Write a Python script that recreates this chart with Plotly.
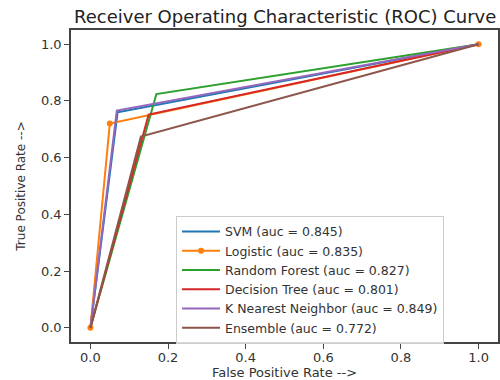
import plotly.graph_objects as go

# ROC operating points (FPR, TPR) for each classifier
models = ["SVM", "Logistic", "Random Forest", "Decision Tree", "K Nearest Neighbor", "Ensemble"]
auc_scores = [0.845, 0.835, 0.827, 0.801, 0.849, 0.772]
fpr_values = [
    [0.0, 0.07, 1.0],
    [0.0, 0.05, 1.0],
    [0.0, 0.17, 1.0],
    [0.0, 0.15, 1.0],
    [0.0, 0.068, 1.0],
    [0.0, 0.13, 1.0],
]
tpr_values = [
    [0.0, 0.76, 1.0],
    [0.0, 0.72, 1.0],
    [0.0, 0.824, 1.0],
    [0.0, 0.752, 1.0],
    [0.0, 0.766, 1.0],
    [0.0, 0.674, 1.0],
]
colors = ["#1f77b4", "#ff7f0e", "#2ca02c", "#d62728", "#9467bd", "#8c564b"]
tick_vals = [0.0, 0.2, 0.4, 0.6, 0.8, 1.0]
tick_text = ["0.0", "0.2", "0.4", "0.6", "0.8", "1.0"]

FONT = "DejaVu Sans"

fig = go.Figure()
for name, auc, fpr, tpr, col in zip(models, auc_scores, fpr_values, tpr_values, colors):
    with_markers = name == "Logistic"
    fig.add_trace(go.Scatter(
        x=fpr, y=tpr,
        mode="lines+markers" if with_markers else "lines",
        name=f"{name} (auc = {auc:.3f})",
        line=dict(color=col, width=2),
        marker=dict(color=col, size=6) if with_markers else None,
    ))

axis_common = dict(
    range=[-0.05, 1.05],
    tickvals=tick_vals,
    ticktext=tick_text,
    showgrid=False,
    zeroline=False,
    showline=True,
    mirror=True,
    linecolor="#444",
    linewidth=1.5,
    ticks="outside",
    ticklen=5,
    tickwidth=1.2,
    tickcolor="#444",
    tickfont=dict(family=FONT, size=13, color="#333"),
)

fig.update_layout(
    width=500,
    height=380,
    margin=dict(l=71, r=0, t=30, b=38),
    paper_bgcolor="white",
    plot_bgcolor="white",
    title=dict(
        text="Receiver Operating Characteristic (ROC) Curve",
        x=74 / 500,
        xanchor="left",
        y=1 - 17 / 380,
        yanchor="middle",
        font=dict(family=FONT, size=18, color="#222"),
    ),
    xaxis=dict(
        **axis_common,
        ticklabelstandoff=-2,
        title=dict(text="False Positive Rate -->",
                   font=dict(family=FONT, size=13, color="#333"), standoff=3),
    ),
    yaxis=dict(
        **axis_common,
        title=dict(text="True Positive Rate -->",
                   font=dict(family=FONT, size=12, color="#333"), standoff=13),
    ),
    legend=dict(
        x=0.246,
        y=0.404,
        xanchor="left",
        yanchor="top",
        bgcolor="rgba(255,255,255,0.8)",
        bordercolor="#ccc",
        borderwidth=1,
        font=dict(family=FONT, size=12.5, color="#333"),
        itemwidth=38,
        tracegroupgap=0,
    ),
    showlegend=True,
)

fig.write_html("out.html")
